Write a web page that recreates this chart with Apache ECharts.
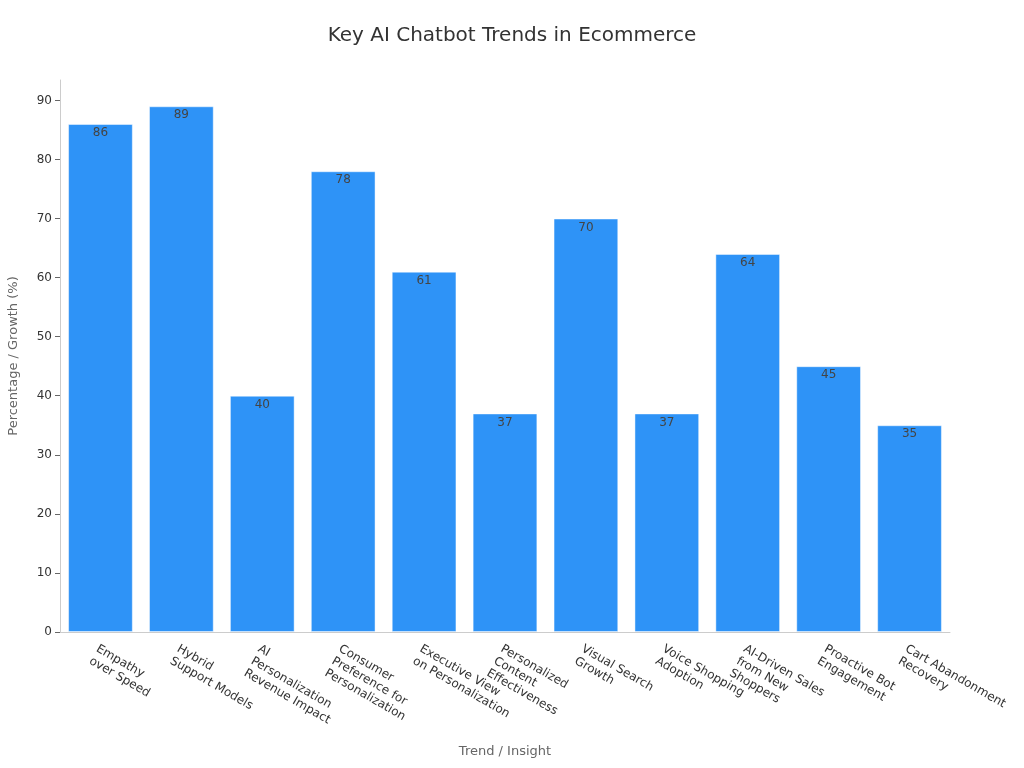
<!DOCTYPE html>
<html><head><meta charset="utf-8">
<script src="https://cdn.jsdelivr.net/npm/echarts@6/dist/echarts.min.js"></script>
<style>html,body{margin:0;padding:0;background:#fff}#c{width:1024px;height:768px}</style>
</head><body><div id="c"></div>
<script>
const categories = ["Empathy\nover Speed","Hybrid\nSupport Models","AI\nPersonalization\nRevenue Impact","Consumer\nPreference for\nPersonalization","Executive View\non Personalization","Personalized\nContent\nEffectiveness","Visual Search\nGrowth","Voice Shopping\nAdoption","AI-Driven Sales\nfrom New\nShoppers","Proactive Bot\nEngagement","Cart Abandonment\nRecovery"];
const values = [86, 89, 40, 78, 61, 37, 70, 37, 64, 45, 35];
const yTicks = [0, 10, 20, 30, 40, 50, 60, 70, 80, 90];
const font = "DejaVu Sans";
const chart = echarts.init(document.getElementById('c'));
chart.setOption({
  animation: false,
  textStyle: {fontFamily: font},
  title: {text: "Key AI Chatbot Trends in Ecommerce", left: 'center', top: 21,
    textStyle: {fontFamily: font, fontSize: 20, fontWeight: 'normal', color: '#333'}},
  grid: {left: 60, right: 74, top: 80, bottom: 136, containLabel: false, outerBoundsMode: 'none'},
  xAxis: {
    type: 'category', data: categories,
    name: "Trend / Insight", nameLocation: 'middle', nameGap: 113,
    nameTextStyle: {fontFamily: font, fontSize: 13, color: '#666'},
    axisLine: {lineStyle: {color: '#ccc'}},
    axisTick: {alignWithLabel: true, lineStyle: {color: '#666'}},
    axisLabel: {rotate: -30, interval: 0, fontFamily: font, fontSize: 12, color: '#333', lineHeight: 14, margin: 10, verticalAlign: 'top'}
  },
  yAxis: {
    type: 'value', min: 0, max: 93.45, interval: 10,
    name: "Percentage / Growth (%)", nameLocation: 'middle', nameGap: 40,
    nameTextStyle: {fontFamily: font, fontSize: 13, color: '#666'},
    axisLine: {show: true, lineStyle: {color: '#ccc'}},
    axisTick: {show: true, customValues: yTicks, lineStyle: {color: '#666'}},
    axisLabel: {customValues: yTicks, fontFamily: font, fontSize: 12, color: '#333'},
    splitLine: {show: false}
  },
  series: [{
    type: 'bar', data: values, barCategoryGap: '20%',
    itemStyle: {color: '#2e93f7', borderColor: 'rgba(255,255,255,0.45)', borderWidth: 1},
    label: {show: true, position: 'insideTop', fontFamily: font, fontSize: 12, color: '#444', distance: 3}
  }]
});
</script></body></html>
